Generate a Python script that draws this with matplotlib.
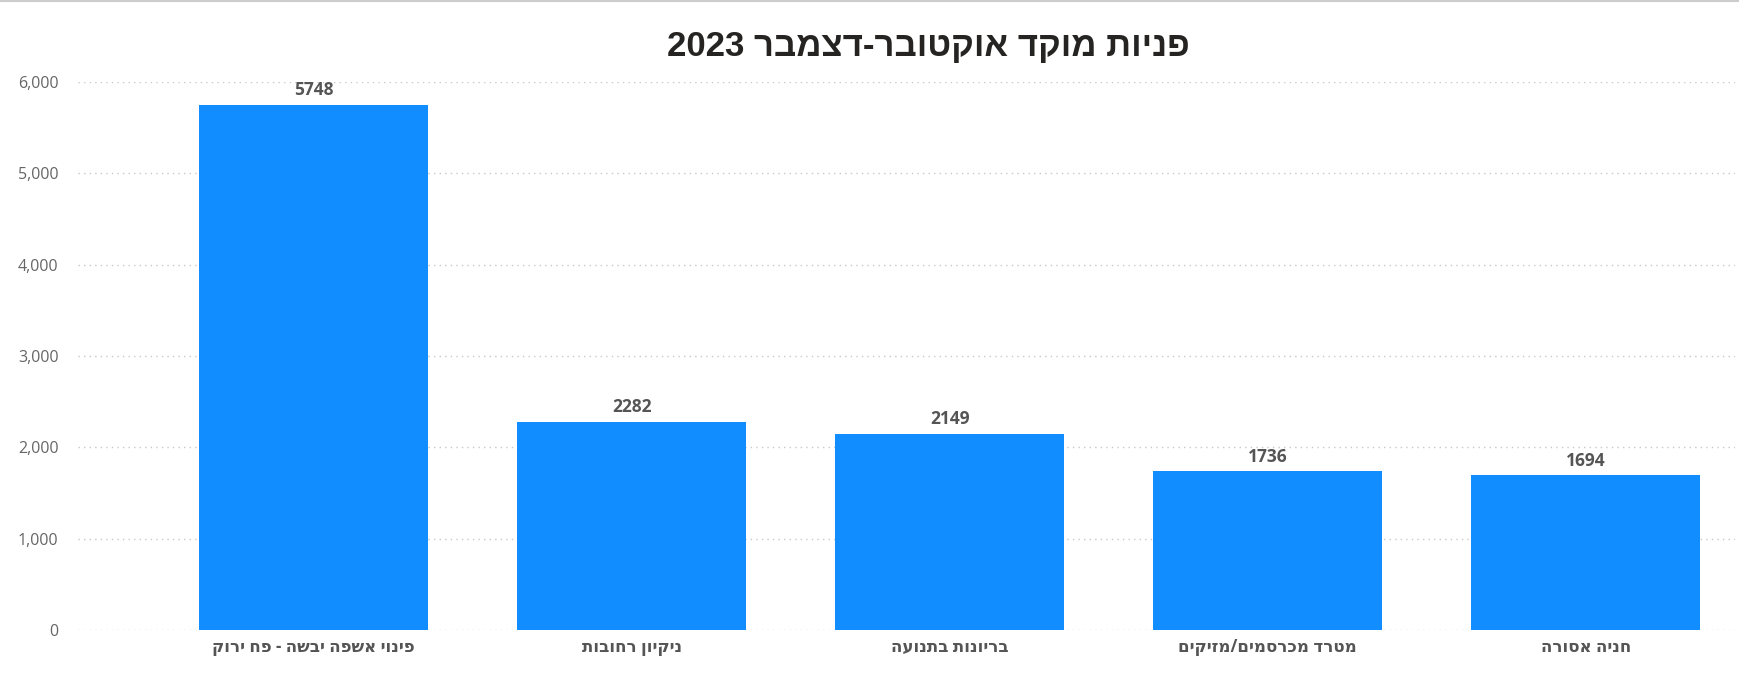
import re
import matplotlib
matplotlib.use('Agg')
import matplotlib.pyplot as plt
from matplotlib.ticker import FuncFormatter


def heb(s):
    # matplotlib draws left to right, so flip Hebrew and keep numbers readable
    r = s[::-1]
    return re.sub(r'\d+', lambda m: m.group(0)[::-1], r)


title = 'פניות מוקד אוקטובר-דצמבר 2023'
categories = ['פינוי אשפה יבשה - פח ירוק', 'ניקיון רחובות', 'בריונות בתנועה',
              'מטרד מכרסמים/מזיקים', 'חניה אסורה']
calls = [5748, 2282, 2149, 1736, 1694]
yticks = [0, 1000, 2000, 3000, 4000, 5000, 6000]

body_font = ['Open Sans', 'DejaVu Sans']
title_font = ['Liberation Sans Narrow', 'Liberation Sans', 'DejaVu Sans']

fig = plt.figure(figsize=(17.39, 6.88), dpi=100)
ax = fig.add_axes([0.0449, 0.0843, 0.953, 0.7967])

x = list(range(len(calls)))
bars = ax.bar(x, calls, width=0.72, color='#118DFF', zorder=3)

for xi, v in zip(x, calls):
    ax.annotate(str(v), (xi, v), xytext=(0, 4), textcoords='offset points',
                ha='center', va='bottom', fontsize=12.5, fontweight='bold',
                color='#555555', family=body_font)

ax.set_xlim(-0.74, 4.47)
ax.set_ylim(0, 6000)
ax.set_yticks(yticks)
ax.yaxis.set_major_formatter(FuncFormatter(lambda v, p: f'{int(v):,}'))
ax.set_xticks(x)
ax.set_xticklabels([heb(c) for c in categories], fontsize=12, fontweight='bold',
                   color='#555555', family=body_font)
for lab in ax.get_yticklabels():
    lab.set_family(body_font)
    lab.set_fontsize(11.5)
    lab.set_color('#666666')

ax.tick_params(axis='both', length=0)
ax.tick_params(axis='x', pad=6)
ax.tick_params(axis='y', pad=14)
ax.grid(axis='y', linestyle=(0, (1, 3)), color='#c8c8c8', linewidth=1, zorder=0)
for s in ax.spines.values():
    s.set_visible(False)

fig.text(0.534, 0.932, heb(title), ha='center', va='center', fontsize=25,
         fontweight='bold', color='#252423', family=title_font)
fig.add_artist(plt.Line2D([0, 1], [0.999, 0.999], color='#cccccc', linewidth=1.5,
                          transform=fig.transFigure))

fig.savefig('out.png', dpi=100)
